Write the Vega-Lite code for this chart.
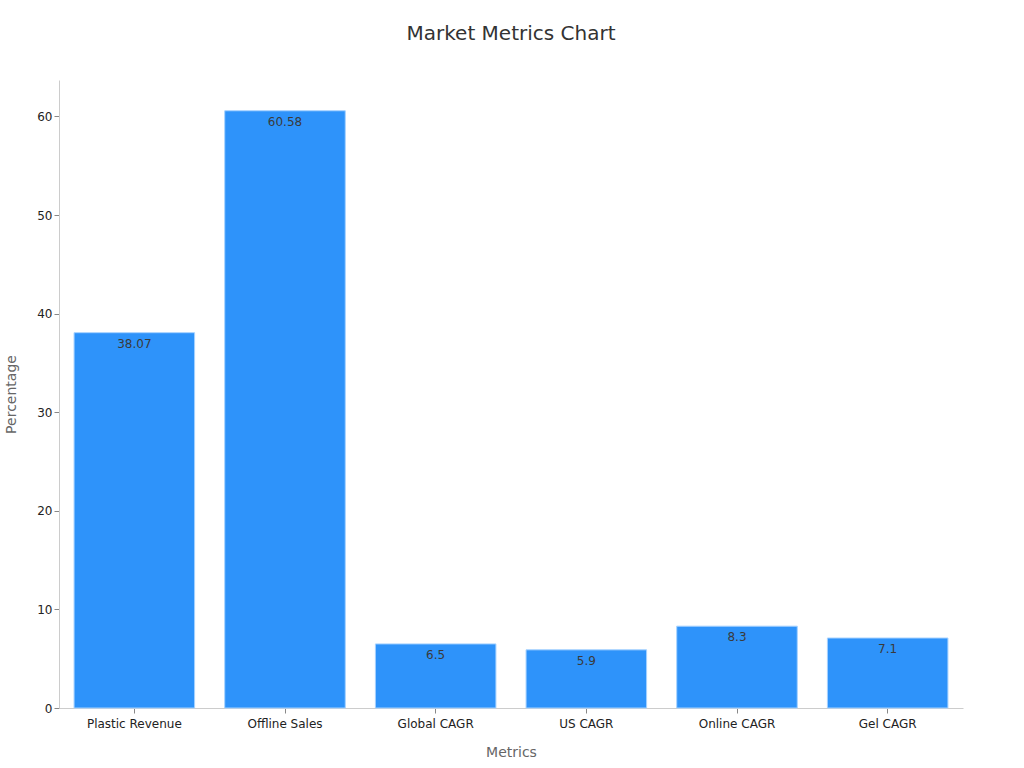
{
  "$schema": "https://vega.github.io/schema/vega-lite/v6.json",
  "width": 904,
  "height": 628,
  "autosize": {"type": "none"},
  "padding": {"left": 59, "top": 80, "right": 61, "bottom": 60},
  "background": "white",
  "title": {
    "text": "Market Metrics Chart",
    "fontSize": 20,
    "fontWeight": "normal",
    "font": "DejaVu Sans",
    "color": "#333333",
    "offset": 36
  },
  "data": {
    "values": [
      {"metric": "Plastic Revenue", "value": 38.07},
      {"metric": "Offline Sales", "value": 60.58},
      {"metric": "Global CAGR", "value": 6.5},
      {"metric": "US CAGR", "value": 5.9},
      {"metric": "Online CAGR", "value": 8.3},
      {"metric": "Gel CAGR", "value": 7.1}
    ]
  },
  "encoding": {
    "x": {
      "field": "metric",
      "type": "nominal",
      "sort": null,
      "title": "Metrics",
      "scale": {"paddingInner": 0.2, "paddingOuter": 0.1},
      "axis": {"labelAngle": 0, "labelPadding": 5, "titlePadding": 16}
    },
    "y": {
      "field": "value",
      "type": "quantitative",
      "title": "Percentage",
      "scale": {"domain": [0, 63.7], "nice": false},
      "axis": {"values": [0, 10, 20, 30, 40, 50, 60], "titlePadding": 18}
    }
  },
  "layer": [
    {
      "mark": {"type": "bar", "color": "#2E93FA", "stroke": "#A6D2FF", "strokeWidth": 1}
    },
    {
      "mark": {"type": "text", "baseline": "top", "dy": 6, "fontSize": 12, "color": "#3a3a3a", "font": "DejaVu Sans"},
      "encoding": {"text": {"field": "value", "type": "quantitative"}}
    }
  ],
  "config": {
    "view": {"stroke": null},
    "axis": {
      "grid": false,
      "labelFont": "DejaVu Sans",
      "titleFont": "DejaVu Sans",
      "labelFontSize": 12,
      "labelColor": "#222222",
      "titleFontSize": 14,
      "titleFontWeight": "normal",
      "titleColor": "#666666",
      "domainColor": "#cccccc",
      "tickColor": "#888888",
      "tickSize": 5
    }
  }
}
